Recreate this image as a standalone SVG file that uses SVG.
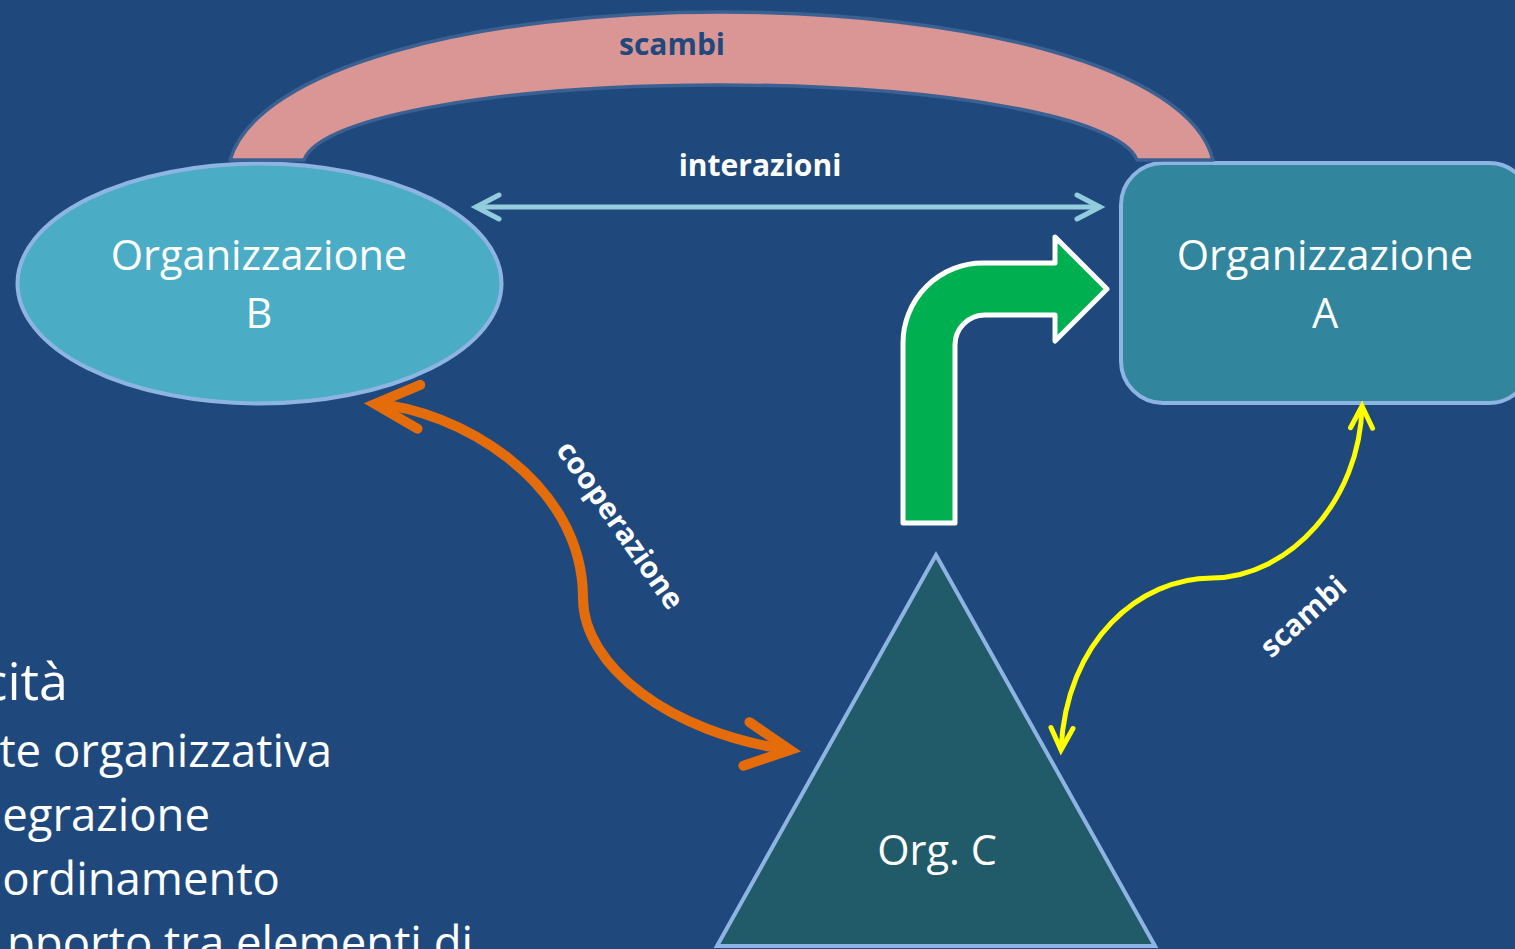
<svg xmlns="http://www.w3.org/2000/svg" width="1515" height="949" viewBox="0 0 1515 949">
  <style>
    .lbl { font-family: "Open Sans", "Noto Sans", "Liberation Sans", sans-serif; fill: #FFFFFF; }
    .node-text { font-size: 41.5px; text-anchor: middle; }
    .conn-text { font-size: 30px; font-weight: bold; text-anchor: middle; }
    .body-text { font-size: 45.5px; text-anchor: end; }
    .node-shape { stroke: #8EB4E3; stroke-width: 4; }
  </style>
  <defs>
    <marker id="chevCyan" markerUnits="userSpaceOnUse" orient="auto-start-reverse" viewBox="-30 -20 40 40" refX="0" refY="0" markerWidth="40" markerHeight="40">
      <path d="M-23,-12 L0,0 L-23,12" fill="none" stroke="#93CDDD" stroke-width="5" stroke-linecap="round" stroke-linejoin="miter"/>
    </marker>
    <marker id="chevOrange" markerUnits="userSpaceOnUse" orient="auto-start-reverse" viewBox="-55 -35 70 70" refX="0" refY="0" markerWidth="70" markerHeight="70">
      <path d="M-44,-22 L0,0 L-44,22" fill="none" stroke="#E46C0A" stroke-width="10" stroke-linecap="round" stroke-linejoin="miter"/>
    </marker>
    <marker id="chevYellow" markerUnits="userSpaceOnUse" orient="auto-start-reverse" viewBox="-30 -20 40 40" refX="0" refY="0" markerWidth="40" markerHeight="40">
      <path d="M-22,-11 L0,0 L-22,11" fill="none" stroke="#FFFF00" stroke-width="5" stroke-linecap="round" stroke-linejoin="miter"/>
    </marker>
  </defs>

  <rect x="0" y="0" width="1515" height="949" fill="#1F497D"/>

  <g id="body-text" class="lbl">
    <text class="body-text" x="68" y="700" style="font-size:52px">cità</text>
    <text class="body-text" x="332" y="767">te organizzativa</text>
    <text class="body-text" x="210" y="831">egrazione</text>
    <text class="body-text" x="280" y="895">ordinamento</text>
    <text class="body-text" x="473" y="959">pporto tra elementi di</text>
  </g>

  <g id="org-b">
    <ellipse class="node-shape" cx="259.5" cy="283.5" rx="242" ry="120" fill="#4BACC6"/>
    <text class="lbl node-text" x="259" y="270">Organizzazione</text>
    <text class="lbl node-text" x="259" y="328">B</text>
  </g>

  <g id="org-a">
    <rect class="node-shape" x="1121" y="163" width="410" height="240" rx="42" ry="42" fill="#31859C"/>
    <text class="lbl node-text" x="1325" y="270">Organizzazione</text>
    <text class="lbl node-text" x="1325" y="328">A</text>
  </g>

  <g id="org-c">
    <polygon class="node-shape" points="936,555 717,946 1155,946" fill="#215A69" stroke-linejoin="miter"/>
    <text class="lbl node-text" x="937" y="865">Org. C</text>
  </g>

  <g id="green-arrow">
    <path d="M903,523 L903,343 A80,80 0 0 1 983,263 L1055,263 L1055,237 L1107,289 L1055,341 L1055,315 L985,315 A30,30 0 0 0 955,345 L955,523 Z" fill="#00B050" stroke="#FFFFFF" stroke-width="5" stroke-linejoin="round"/>
  </g>

  <g id="connectors">
    <g id="scambi-arc">
      <path d="M230,160 C258,66 480,12 722,12 C965,12 1190,66 1213,160 L1137,160 C1120,115 930,85 720,85 C510,85 320,115 304,160 Z" fill="#D99694" stroke="#3B6192" stroke-width="3.5" stroke-linejoin="round"/>
      <text class="lbl conn-text" x="672" y="55" style="fill:#1F497D">scambi</text>
    </g>
    <g id="interazioni">
      <path d="M476,207 L1100,207" fill="none" stroke="#93CDDD" stroke-width="5" marker-start="url(#chevCyan)" marker-end="url(#chevCyan)"/>
      <text class="lbl conn-text" x="760" y="176">interazioni</text>
    </g>
    <g id="cooperazione">
      <path d="M375,404 C455,409 583,480 583,598 C583,665 668,733 790,750" fill="none" stroke="#E46C0A" stroke-width="10" marker-start="url(#chevOrange)" marker-end="url(#chevOrange)"/>
      <text class="lbl conn-text" transform="translate(612,531) rotate(55)" x="0" y="0" style="font-size:29.5px">cooperazione</text>
    </g>
    <g id="scambi-yellow">
      <path d="M1362,406 C1360,500 1290,577 1212,578 C1140,578 1066,640 1061,750" fill="none" stroke="#FFFF00" stroke-width="5" marker-start="url(#chevYellow)" marker-end="url(#chevYellow)"/>
      <text class="lbl conn-text" transform="translate(1310,624) rotate(-42)" x="0" y="0" style="font-size:29.5px">scambi</text>
    </g>
  </g>
</svg>
